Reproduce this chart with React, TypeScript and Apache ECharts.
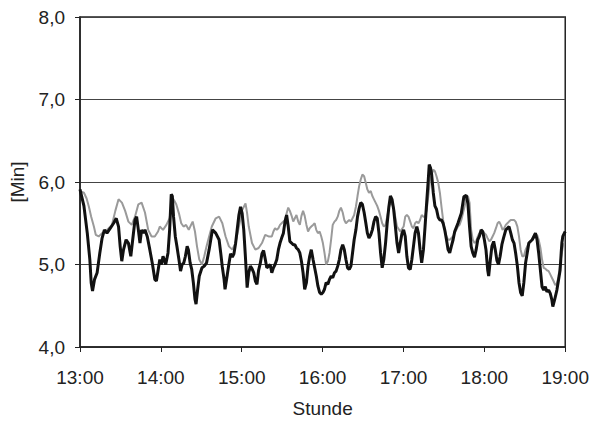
import React, { useEffect, useRef } from "react";
import * as echarts from "echarts";

// minutes after 13:00
const blackTimes = [0,2.9,5.4,7.3,8.3,9.3,10.8,12.7,14.7,16.4,18.1,20,22.5,24.9,26.9,28.6,29.8,31,32.3,34.2,35.9,37.7,39.1,40.8,42,43.3,44.5,45.7,46.9,48.2,49.9,51.8,53.8,55.5,56.7,59.2,60.4,61.6,63.6,65.3,66.5,67.7,68.5,69.4,70.7,71.9,73.4,74.6,75.8,77,78.2,79.5,80.4,81.7,82.9,84.1,85.3,86.1,87.3,88.5,90.5,92.2,93.9,95.8,97.8,98.3,100.7,103.2,104.4,105.6,106.9,107.6,109.3,110.5,111.7,113,114.2,115.4,116.6,117.9,119.1,120.3,121.5,122.7,124,125.2,126.4,127.6,128.9,130.1,131.3,132.5,133.7,135,136.2,137.4,138.6,139.9,141.1,142.3,143.5,144.7,146,147.2,148.4,149.6,150.9,152.1,153.3,154.5,155.7,157,158.2,159.4,160.6,161.9,163.1,164.3,165.5,166.7,168,169.2,170.4,171.6,172.9,174.1,175.3,176.5,177.8,179,180.2,181.4,182.6,183.9,185.1,186.3,187.5,188.8,190,191.2,192.4,193.6,194.9,196.1,197.3,198.5,199.8,201,202.2,203.4,204.7,205.9,207.1,208.3,209.5,210.8,212,213.2,214.4,215.7,216.9,218.1,219.3,220.5,221.8,223,224.2,225.4,226.7,227.9,229.1,230.3,231.5,232.7,234,235.2,236.4,237.6,238.9,240.1,241.3,242.5,243.7,245,246.2,247.4,248.6,249.9,251.1,252.3,253.5,254.8,256,257.2,258.4,259.1,260.1,260.9,262.1,263.3,264.5,265.8,267,268.2,269.4,270.6,271.9,273.1,274.3,275.5,276.8,278,280.4,282.9,284.8,286.6,287.8,289,290.2,291.4,292.7,293.9,295.1,296.3,297.6,298.8,300,301.2,302.5,303.2,304.4,305.6,306.9,308.1,309.3,310.5,311.7,313,314.2,315.9,317.1,318.3,319.6,320.8,322,323.2,324.5,325.7,326.9,328.1,329.3,330.6,331.8,333,335.5,337.9,339.1,340.3,341.6,342.8,344,345.2,346.4,347.7,348.9,350.1,350.8,352.1,353.8,355,356.2,357,357.5,358.2,360];
const blackValues = [5.91,5.71,5.38,5.06,4.78,4.68,4.82,4.9,5.14,5.32,5.42,5.38,5.44,5.5,5.56,5.46,5.22,5.04,5.18,5.3,5.26,5.1,5.3,5.54,5.58,5.42,5.26,5.42,5.38,5.42,5.34,5.18,5.0,4.82,4.8,5.06,5.0,5.1,5.0,5.14,5.42,5.85,5.83,5.58,5.34,5.22,5.06,4.92,5.0,5.02,5.1,5.22,5.18,5.02,4.94,4.78,4.58,4.52,4.7,4.86,4.96,4.98,5.02,5.18,5.38,5.42,5.38,5.3,5.14,4.97,4.82,4.7,4.88,5.01,5.13,5.09,5.13,5.25,5.42,5.6,5.7,5.62,5.42,5.1,4.72,4.9,4.98,4.95,4.9,4.8,4.76,4.93,5.01,5.13,5.17,5.07,4.96,4.98,5.0,4.9,4.96,5.0,5.06,5.18,5.26,5.32,5.38,5.52,5.6,5.46,5.28,5.26,5.24,5.24,5.2,5.18,5.14,5.04,4.9,4.7,4.78,4.98,5.1,5.18,5.06,4.96,4.86,4.74,4.66,4.64,4.66,4.7,4.78,4.76,4.82,4.86,4.84,4.9,4.92,4.98,5.06,5.18,5.24,5.18,5.06,4.96,4.94,4.98,5.14,5.3,5.42,5.58,5.68,5.75,5.73,5.63,5.51,5.38,5.32,5.36,5.42,5.52,5.58,5.56,5.38,5.14,4.96,5.06,5.26,5.5,5.69,5.83,5.79,5.67,5.46,5.26,5.14,5.26,5.38,5.42,5.34,5.1,4.96,4.94,5.06,5.22,5.38,5.46,5.38,5.18,5.02,5.18,5.46,5.75,6.03,6.21,6.17,6.09,5.87,5.71,5.67,5.57,5.54,5.54,5.5,5.42,5.3,5.18,5.14,5.22,5.3,5.4,5.5,5.62,5.82,5.84,5.74,5.46,5.22,5.14,5.09,5.18,5.3,5.34,5.42,5.4,5.3,5.18,4.93,4.86,5.05,5.22,5.28,5.18,5.05,5.0,5.1,5.24,5.32,5.42,5.44,5.46,5.38,5.3,5.26,5.14,4.98,4.78,4.66,4.62,4.78,5.02,5.14,5.26,5.3,5.38,5.3,5.14,4.93,4.73,4.69,4.73,4.67,4.69,4.65,4.57,4.49,4.57,4.69,4.81,4.93,5.14,5.26,5.34,5.4];

const grayTimes = [0,2.9,4.9,6.6,8.3,10.3,11.7,13.9,16.4,18.8,21.3,23.7,26.2,28.6,31.1,33.5,35.9,38.4,40.8,43.3,45.7,48.2,50.6,53.1,55.5,57.9,59.2,61.6,64.1,66.5,67.7,69.4,71.4,73.4,75.1,76.8,78.7,80.7,82.4,83.6,85.3,86.8,88.5,90.5,92.2,93.9,95.8,97.8,100.7,103.2,105.6,108,110.5,113,115.4,117.9,120.3,122.8,124,125.2,127.6,130.1,132.5,135,137.4,139.9,142.3,143.5,144.7,146,147.2,148.4,149.6,150.9,152.1,153.3,154.5,155.7,157,158.2,159.4,160.6,161.9,163.1,164.3,165.5,166.7,168,169.2,170.4,171.6,172.9,174.1,175.3,176.5,177.8,179,180.2,181.4,182.6,183.9,185.1,186.3,187.5,188.8,190,191.2,192.4,193.6,194.9,196.1,197.3,198.5,199.8,201,202.2,203.4,204.7,205.9,207.1,208.3,209.5,210.8,212,213.2,214.4,215.7,216.9,218.1,219.3,220.5,221.8,223,224.2,225.4,226.7,227.9,229.1,230.3,232.7,235.2,237.6,240.1,241.3,242.5,243.7,245,246.2,247.4,248.6,249.9,251.1,252.3,253.5,254.8,256,257.2,258.4,259.6,260.9,262.1,263.3,264.5,265.8,267,268.2,269.4,270.6,271.9,273.1,274.3,275.5,276.8,278,279.2,280.4,281.6,282.9,284.1,285.3,286.5,287.8,289,290.2,291.4,292.7,293.9,295.1,296.3,297.6,298.8,300,301.2,302.4,303.7,304.9,306.1,307.3,308.6,309.8,311,312.2,313.5,314.7,315.9,317.1,318.3,319.6,320.8,322,323.2,324.5,325.7,326.9,328.1,329.3,330.6,331.8,333,335.4,337.9,339.1,340.3,341.6,342.8,344,345.2,346.4,347.7,348.9,350.1,351.3,352.6,353.8,355,356.2,357.5,358.7];
const grayValues = [5.89,5.87,5.8,5.7,5.58,5.46,5.36,5.34,5.38,5.4,5.44,5.48,5.65,5.79,5.75,5.65,5.52,5.48,5.58,5.73,5.75,5.63,5.42,5.34,5.34,5.4,5.46,5.42,5.48,5.56,5.7,5.79,5.73,5.62,5.5,5.46,5.48,5.42,5.48,5.52,5.4,5.22,5.06,5.0,5.1,5.22,5.34,5.46,5.56,5.58,5.5,5.34,5.22,5.18,5.26,5.46,5.66,5.74,5.62,5.46,5.26,5.18,5.2,5.26,5.36,5.34,5.34,5.4,5.44,5.42,5.44,5.48,5.5,5.52,5.54,5.62,5.69,5.65,5.59,5.52,5.56,5.6,5.52,5.48,5.59,5.65,5.59,5.48,5.4,5.44,5.46,5.48,5.5,5.42,5.38,5.4,5.34,5.26,5.14,5.0,5.04,5.14,5.3,5.48,5.52,5.54,5.58,5.65,5.69,5.63,5.54,5.5,5.52,5.54,5.52,5.56,5.6,5.7,5.83,5.95,6.03,6.09,6.07,5.99,5.91,5.87,5.89,5.83,5.79,5.75,5.71,5.65,5.58,5.5,5.46,5.48,5.58,5.68,5.77,5.69,5.46,5.4,5.46,5.58,5.6,5.58,5.52,5.46,5.44,5.5,5.52,5.5,5.54,5.6,5.58,5.58,5.66,5.83,6.01,6.09,6.15,6.13,6.07,5.99,5.87,5.7,5.54,5.42,5.34,5.3,5.3,5.32,5.34,5.38,5.42,5.46,5.48,5.54,5.62,5.7,5.79,5.83,5.75,5.42,5.3,5.26,5.28,5.34,5.38,5.38,5.4,5.38,5.36,5.32,5.28,5.3,5.34,5.38,5.44,5.5,5.52,5.48,5.42,5.44,5.48,5.5,5.52,5.54,5.54,5.54,5.52,5.46,5.34,5.18,5.1,5.1,5.18,5.22,5.26,5.3,5.34,5.36,5.3,5.2,5.06,4.96,4.95,4.93,4.92,4.88,4.84,4.8,4.75,4.77,4.85,5.01,5.14,5.26];

const hourLabels = ["13:00", "14:00", "15:00", "16:00", "17:00", "18:00", "19:00"];
const yMin = 4;
const yMax = 8;
const xTitle = "Stunde";
const yTitle = "[Min]";

const FONT = "Liberation Sans, Arial, sans-serif";

export default function App() {
  const ref = useRef<HTMLDivElement>(null);
  useEffect(() => {
    if (!ref.current) return;
    const chart = echarts.init(ref.current, undefined, { renderer: "svg" });
    const toPairs = (t: number[], v: number[]) => t.map((x, i) => [x, v[i]]);
    chart.setOption({
      animation: false,
      backgroundColor: "#ffffff",
      grid: {
        left: 76,
        right: 25,
        top: 17,
        bottom: 76,
        show: true,
        borderColor: "#222",
        borderWidth: 1.5,
      },
      xAxis: {
        type: "value",
        min: 0,
        max: 360,
        interval: 60,
        name: xTitle,
        nameLocation: "middle",
        nameGap: 52,
        nameTextStyle: { fontFamily: FONT, fontSize: 19, color: "#222" },
        axisLine: { show: true, onZero: false, lineStyle: { color: "#222", width: 1.5 } },
        axisTick: { show: true, length: 5, lineStyle: { color: "#222" } },
        axisLabel: {
          margin: 21,
          fontFamily: FONT,
          fontSize: 19,
          color: "#222",
          formatter: (v: number) => hourLabels[Math.round(v / 60)] ?? "",
        },
        splitLine: { show: false },
      },
      yAxis: {
        type: "value",
        min: yMin,
        max: yMax,
        interval: 1,
        name: yTitle,
        nameLocation: "middle",
        nameGap: 53,
        nameRotate: 90,
        nameTextStyle: { fontFamily: FONT, fontSize: 19, color: "#222" },
        axisLine: { show: true, lineStyle: { color: "#222", width: 1.5 } },
        axisTick: { show: true, length: 5, lineStyle: { color: "#222" } },
        axisLabel: {
          margin: 15,
          fontFamily: FONT,
          fontSize: 19,
          color: "#222",
          formatter: (v: number) => v.toFixed(1).replace(".", ","),
        },
        splitLine: { show: true, lineStyle: { color: "#444", width: 1 } },
      },
      series: [
        {
          type: "line",
          data: toPairs(grayTimes, grayValues),
          showSymbol: false,
          symbol: "none",
          lineStyle: { color: "#9a9a9a", width: 2 },
          z: 2,
        },
        {
          type: "line",
          data: toPairs(blackTimes, blackValues),
          showSymbol: false,
          symbol: "none",
          lineStyle: { color: "#111", width: 3 },
          z: 3,
        },
      ],
    });
    return () => chart.dispose();
  }, []);
  return (
    <div
      ref={ref}
      style={{ position: "fixed", left: 0, top: 0, width: 592, height: 423 }}
    />
  );
}
